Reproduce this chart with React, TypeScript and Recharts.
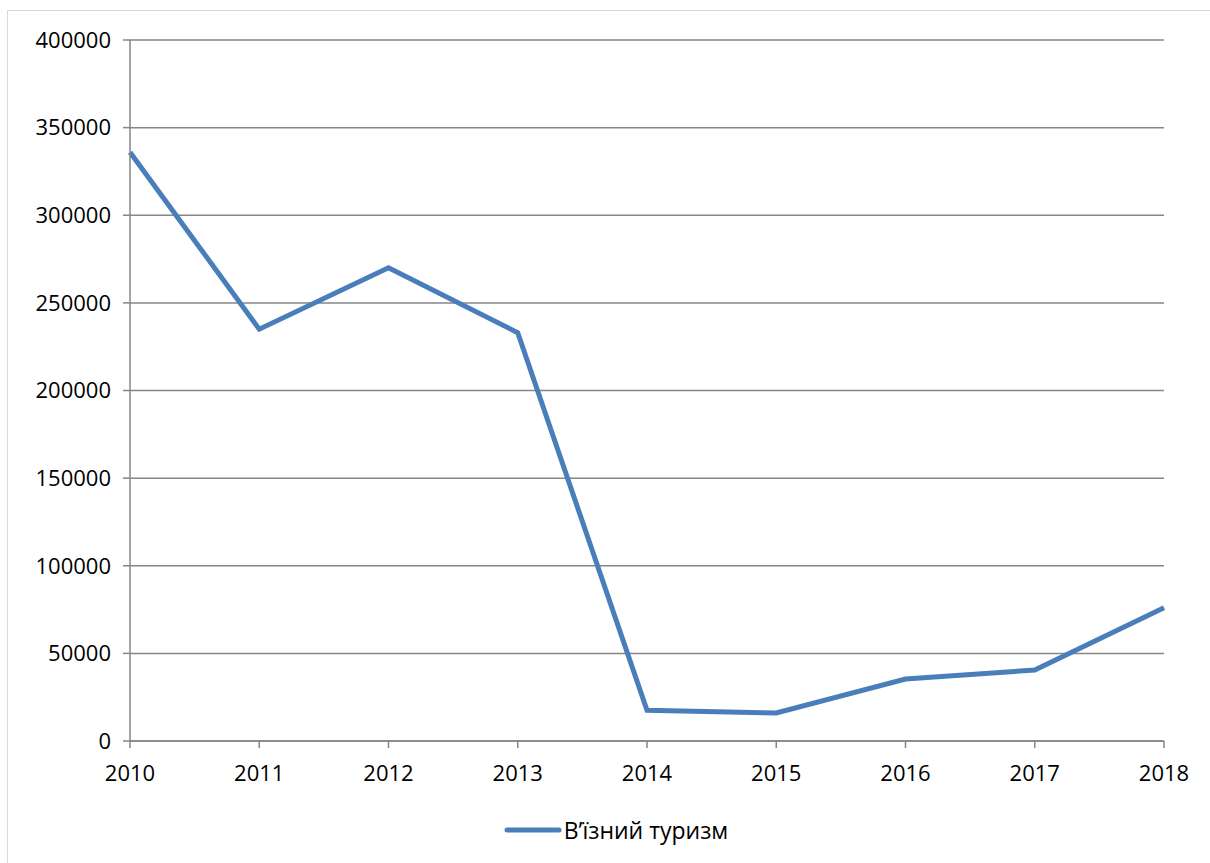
import { LineChart, Line, XAxis, YAxis, CartesianGrid, Legend } from 'recharts'

const years = ['2010', '2011', '2012', '2013', '2014', '2015', '2016', '2017', '2018']
const inbound = [336000, 235000, 270000, 233000, 17500, 16000, 35400, 40500, 76000]
const yTicks = [0, 50000, 100000, 150000, 200000, 250000, 300000, 350000, 400000]
const seriesName = 'В’їзний туризм'

const data = years.map((year, i) => ({ year, inbound: inbound[i] }))

const FONT = '"Open Sans", sans-serif'
const GRID = '#868686'
const BLUE = '#4a7ebb'

// легенда як в Excel: коротка лінія і підпис поруч
function renderLegend() {
  return (
    <div style={{ display: 'flex', justifyContent: 'center', alignItems: 'center', fontFamily: FONT, paddingLeft: 22 }}>
      <svg width={58} height={10} style={{ marginRight: 2 }}>
        <line x1={3} y1={5} x2={55} y2={5} stroke={BLUE} strokeWidth={5} strokeLinecap="round" />
      </svg>
      <span style={{ fontSize: 23, color: '#000' }}>{seriesName}</span>
    </div>
  )
}

export default function App() {
  return (
    <div style={{ position: 'absolute', left: 0, top: 0, width: 1210, height: 863, background: '#fff', overflow: 'hidden' }}>
      <div
        style={{
          position: 'absolute',
          left: 7,
          top: 10,
          width: 1203,
          height: 853,
          borderTop: '1px solid #d9d9d9',
          borderLeft: '1px solid #d9d9d9',
        }}
      />
      <LineChart
        width={1210}
        height={863}
        data={data}
        margin={{ top: 40, right: 46, bottom: 30, left: 0 }}
        style={{ position: 'absolute', left: 0, top: 0 }}
      >
        <CartesianGrid vertical={false} stroke={GRID} strokeWidth={1.5} />
        <XAxis
          dataKey="year"
          stroke={GRID}
          strokeWidth={1.5}
          tickSize={7}
          tickMargin={17}
          height={60}
          tick={{ fontSize: 22, fill: '#000', fontFamily: FONT }}
          interval={0}
        />
        <YAxis
          domain={[0, 400000]}
          ticks={yTicks}
          stroke={GRID}
          strokeWidth={1.5}
          tickSize={7}
          tickMargin={12}
          width={130}
          tick={{ fontSize: 22, fill: '#000', fontFamily: FONT }}
        />
        <Legend
          content={renderLegend}
          wrapperStyle={{ position: 'absolute', left: 0, top: 814, width: 1210 }}
        />
        <Line
          type="linear"
          dataKey="inbound"
          name={seriesName}
          stroke={BLUE}
          strokeWidth={5}
          dot={false}
          activeDot={false}
          isAnimationActive={false}
        />
      </LineChart>
    </div>
  )
}
